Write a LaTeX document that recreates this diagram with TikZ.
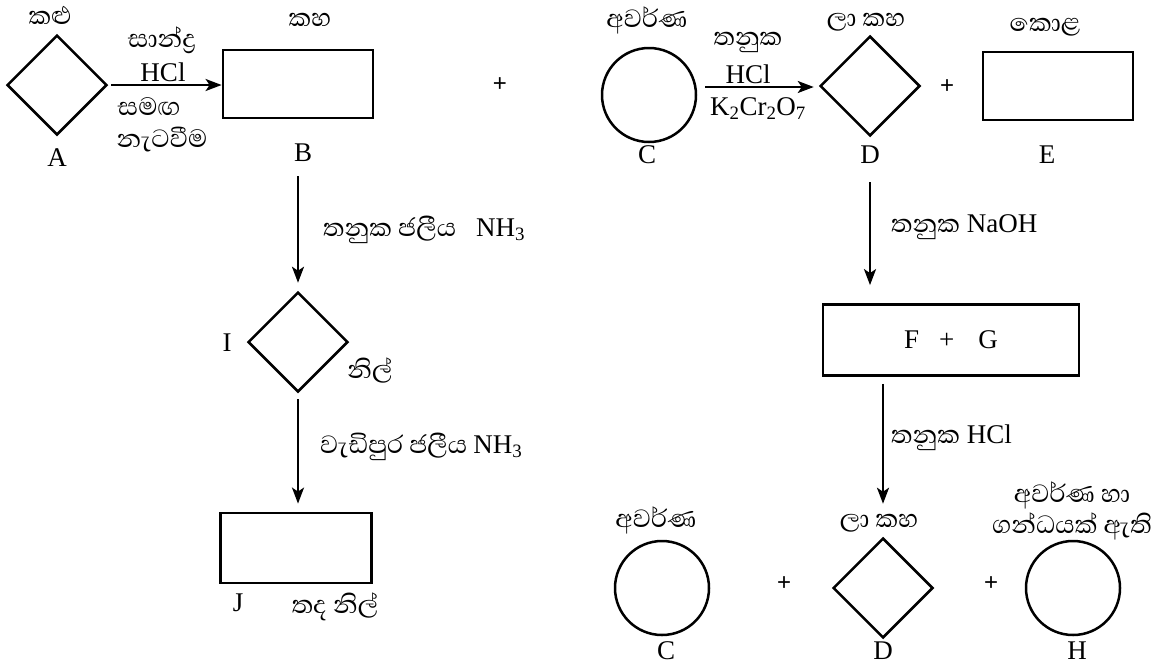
\documentclass[tikz,border=0pt]{standalone}
\usepackage{fontspec}
\setmainfont{Liberation Serif}
\newfontfamily\slfont[Script=Sinhala]{Abhaya Libre}
\newfontfamily\plusfont{Liberation Sans}
\usetikzlibrary{shapes.geometric,arrows.meta}
\newcommand\SL[1]{{\slfont\fontsize{32}{36}\selectfont #1}}
\tikzset{
  boxn/.style={draw, line width=2.8pt, minimum width=150pt, minimum height=68pt, inner sep=0pt},
  dia/.style={draw, diamond, aspect=1, line width=2.5pt, minimum width=100pt, minimum height=100pt, inner sep=0pt},
  circ/.style={draw, circle, line width=2.5pt, minimum size=94pt, inner sep=0pt},
  lab/.style={font=\fontsize{27}{31}\selectfont, inner sep=0pt},
  pls/.style={font=\plusfont\fontsize{24}{28}\selectfont, inner sep=0pt},
  arr/.style={line width=2.4pt, -{Stealth[length=16pt,width=12pt,inset=4pt]}},
}
\begin{document}
\begin{tikzpicture}[x=1pt,y=-1pt]
\useasboundingbox (0,0) rectangle (1161,667);
% ---- top left
\node[dia] (A) at (57,85) {};
\node[lab] (Atop) at (50,15) {\SL{කළු}};
\node[lab] (Alab) at (57,158) {A};
\node[boxn] (B) at (298,84) {};
\node[lab] (Btop) at (310,20) {\SL{කහ}};
\node[lab] (Blab) at (303,153) {B};
\draw[arr, shorten <=3pt] (A.east) -- (A.east -| B.west);
\node[lab] (r1) at (162,40) {\SL{සාන්ද්^^^^200dර}};
\node[lab] (r2) at (163,72) {HCl};
\node[lab] (r3) at (149,107) {\SL{සමඟ}};
\node[lab] (r4) at (162,140) {\SL{නැටවීම}};
\node[pls] (plus1) at (500,85) {+};
% ---- top right
\node[circ] (C) at (649,95) {};
\node[lab] (Ctop) at (647,20) {\SL{අවර්ණ}};
\node[lab] (Clab) at (647,155) {C};
\node[dia] (D) at (870,86) {};
\node[lab] (Dtop) at (866,22) {\SL{ලා කහ}};
\node[lab] (Dlab) at (870,155) {D};
\draw[arr, shorten <=8pt, shorten >=5pt] (C.east |- 0,87) -- (D.west |- 0,87);
\node[lab] (s1) at (748,42) {\SL{තනුක}};
\node[lab] (s2) at (748,74) {HCl};
\node[lab] (s3) at (758,109) {K\textsubscript{2}Cr\textsubscript{2}O\textsubscript{7}};
\node[pls] (plus2) at (947,87) {+};
\node[boxn] (E) at (1058,86) {};
\node[lab] (Etop) at (1045,27) {\SL{කොළ}};
\node[lab] (Elab) at (1047,155) {E};
% ---- left column
\node[dia] (I) at (298,342) {};
\node[lab] (Ilab) at (227,343) {I};
\node[lab] (Ibl) at (370,370) {\SL{නිල්}};
\draw[arr, shorten <=57pt, shorten >=8pt] (B.south) -- (I.north);
\node[lab, anchor=west] (t1) at (323,230) {\SL{තනුක ජලීය}\hspace{20pt}NH\textsubscript{3}};
\node[boxn, minimum width=151pt, minimum height=70pt] (J) at (296,548) {};
\draw[arr, shorten <=6pt, shorten >=8pt] (I.south) -- (I.south |- J.north);
\node[lab, anchor=west] (t2) at (320,447) {\SL{වැඩිපුර ජලීය}\hspace{6pt}NH\textsubscript{3}};
\node[lab] (Jlab) at (238,603) {J};
\node[lab] (Jbl) at (335,607) {\SL{තද නිල්}};
% ---- right column
\node[boxn, lab, line width=2.8pt, minimum width=256pt, minimum height=71pt] (FG) at (951,340) {F\hspace{20pt}+\hspace{24pt}G\hspace{9pt}};
\draw[arr, shorten <=45pt, shorten >=18pt] (D.south) -- (D.south |- FG.north);
\node[lab, anchor=west] (t3) at (891,227) {\SL{තනුක} NaOH};
\node[circ] (C2) at (662,588) {};
\node[lab] (C2top) at (656,520) {\SL{අවර්ණ}};
\node[lab] (C2lab) at (666,651) {C};
\node[pls] (plus3) at (784,584) {+};
\node[dia] (D2) at (883,588) {};
\node[lab] (D2top) at (879,523) {\SL{ලා කහ}};
\node[lab] (D2lab) at (883,651) {D};
\node[pls] (plus4) at (991,584) {+};
\node[circ] (H) at (1073,588) {};
\node[lab] (Htop1) at (1072,495) {\SL{අවර්ණ හා}};
\node[lab] (Htop2) at (1072,526) {\SL{ගන්ධයක් ඇති}};
\node[lab] (Hlab) at (1077,651) {H};
\draw[arr, shorten <=7pt, shorten >=33pt] (FG.south -| D2.north) -- (D2.north);
\node[lab, anchor=west] (t4) at (891,438) {\SL{තනුක} HCl};
\end{tikzpicture}
\end{document}
